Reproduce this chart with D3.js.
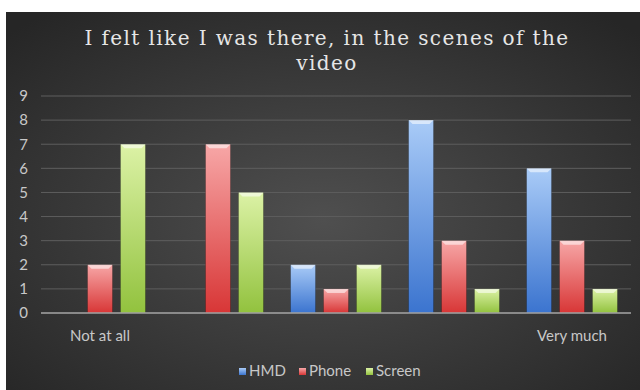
<!DOCTYPE html>
<html>
<head>
<meta charset="utf-8">
<script src="https://cdn.jsdelivr.net/npm/d3@7"></script>
<style>
  body { margin: 0; background: #fff; }
  svg { display: block; }
</style>
</head>
<body>
<div id="chart"></div>
<script>
// chart data
var categories = ["Not at all", "2", "3", "4", "Very much"];
var categoryLabels = ["Not at all", "", "", "", "Very much"];
var series = ["HMD", "Phone", "Screen"];
var hmdValues = [0, 0, 2, 8, 6];
var phoneValues = [2, 7, 1, 3, 3];
var screenValues = [7, 5, 2, 1, 1];
var yTicks = [0, 1, 2, 3, 4, 5, 6, 7, 8, 9];

var width = 640, height = 390;
var margin = {top: 96, right: 9, bottom: 77, left: 41};

var svg = d3.select("#chart")
    .append("svg")
    .attr("width", width)
    .attr("height", height);

var defs = svg.append("defs");

// background glow
var bg = defs.append("radialGradient")
    .attr("id", "bg")
    .attr("cx", "50%").attr("cy", "55%").attr("r", "70%");
bg.append("stop").attr("offset", "0%").attr("stop-color", "#4f4f4f");
bg.append("stop").attr("offset", "100%").attr("stop-color", "#262626");

// bar gradients: light at the top, saturated at the bottom
var barColors = {
    HMD: ["#a9cbf7", "#3b74cf"],
    Phone: ["#f7a7a7", "#d83636"],
    Screen: ["#dcf2a6", "#92c23e"]
};
series.forEach(function (s) {
    var g = defs.append("linearGradient")
        .attr("id", "grad-" + s)
        .attr("x1", 0).attr("y1", 0).attr("x2", 0).attr("y2", 1);
    g.append("stop").attr("offset", "0%").attr("stop-color", barColors[s][0]);
    g.append("stop").attr("offset", "100%").attr("stop-color", barColors[s][1]);
});

svg.append("rect")
    .attr("x", 6).attr("y", 12)
    .attr("width", width - 6).attr("height", height - 12)
    .attr("fill", "url(#bg)");

// title
var title = svg.append("text")
    .attr("text-anchor", "middle")
    .style("font-family", "DejaVu Serif")
    .style("font-size", "20px")
    .style("letter-spacing", "1.4px")
    .attr("fill", "#e6e6e6");
title.append("tspan").attr("x", 327).attr("y", 45).text("I felt like I was there, in the scenes of the");
title.append("tspan").attr("x", 327).attr("y", 70).text("video");

// data rows for the groups
var rows = categories.map(function (c, i) {
    return {category: c, HMD: hmdValues[i], Phone: phoneValues[i], Screen: screenValues[i]};
});

var x0 = d3.scaleBand()
    .domain(categories)
    .range([margin.left, width - margin.right]);

var x1 = d3.scaleBand()
    .domain(series)
    .range([0, x0.bandwidth()])
    .paddingInner(0.24)
    .paddingOuter(0.41);

var y = d3.scaleLinear()
    .domain([0, 9])
    .range([height - margin.bottom, margin.top]);

// gridlines
svg.append("g")
    .selectAll("line")
    .data(yTicks.slice(1))
    .enter()
    .append("line")
    .attr("x1", margin.left).attr("x2", width - margin.right)
    .attr("y1", function (d) { return y(d); })
    .attr("y2", function (d) { return y(d); })
    .attr("stroke", "#5e5e5e")
    .attr("stroke-width", 1);

// y axis labels
var yAxis = svg.append("g")
    .attr("transform", "translate(" + margin.left + ",0)")
    .call(d3.axisLeft(y).tickValues(yTicks).tickSize(0).tickPadding(13));
yAxis.select(".domain").remove();
yAxis.selectAll("text")
    .style("font-family", "Lato")
    .style("font-size", "15px")
    .attr("fill", "#c8c8c8");

// bars
var groups = svg.append("g")
    .selectAll("g")
    .data(rows)
    .enter()
    .append("g")
    .attr("transform", function (d) { return "translate(" + x0(d.category) + ",0)"; });

var bars = groups.selectAll("g")
    .data(function (d) {
        return series.map(function (s) { return {key: s, value: d[s]}; });
    })
    .enter()
    .filter(function (d) { return d.value > 0; })
    .append("g");

bars.append("rect")
    .attr("x", function (d) { return x1(d.key); })
    .attr("y", function (d) { return y(d.value); })
    .attr("width", x1.bandwidth())
    .attr("height", function (d) { return y(0) - y(d.value); })
    .attr("fill", function (d) { return "url(#grad-" + d.key + ")"; })
    .attr("stroke", "rgba(0,0,0,0.3)")
    .attr("stroke-width", 0.8);

// bevel highlight on the top of each bar
bars.append("path")
    .attr("d", function (d) {
        var bx = x1(d.key), by = y(d.value), bw = x1.bandwidth();
        return "M" + bx + "," + by + "L" + (bx + bw) + "," + by +
            "L" + (bx + bw - 4) + "," + (by + 4) + "L" + (bx + 4) + "," + (by + 4) + "Z";
    })
    .attr("fill", "rgba(255,255,255,0.55)");

// x axis line
svg.append("line")
    .attr("x1", margin.left).attr("x2", width - margin.right)
    .attr("y1", y(0)).attr("y2", y(0))
    .attr("stroke", "#a6a6a6")
    .attr("stroke-width", 1.5);

// category labels
svg.append("g")
    .selectAll("text")
    .data(categories)
    .enter()
    .append("text")
    .attr("x", function (d) { return x0(d) + x0.bandwidth() / 2; })
    .attr("y", 341)
    .attr("text-anchor", "middle")
    .style("font-family", "Lato")
    .style("font-size", "15px")
    .attr("fill", "#c8c8c8")
    .text(function (d, i) { return categoryLabels[i]; });

// legend
var legendX = [239, 299, 366];
var legend = svg.append("g")
    .selectAll("g")
    .data(series)
    .enter()
    .append("g")
    .attr("transform", function (d, i) { return "translate(" + legendX[i] + ",366)"; });

legend.append("rect")
    .attr("width", 7).attr("height", 7)
    .attr("y", 2)
    .attr("fill", function (d) { return "url(#grad-" + d + ")"; });

legend.append("text")
    .attr("x", 10)
    .attr("y", 10)
    .style("font-family", "Lato")
    .style("font-size", "15px")
    .attr("fill", "#c8c8c8")
    .text(function (d) { return d; });
</script>
</body>
</html>
